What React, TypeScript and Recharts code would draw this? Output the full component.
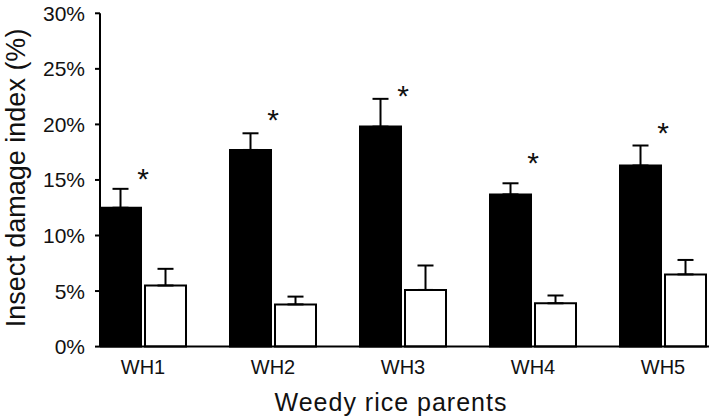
import { Bar, ComposedChart, ErrorBar, Label, Scatter, XAxis, YAxis } from 'recharts';

const parents = ['WH1', 'WH2', 'WH3', 'WH4', 'WH5'];
const weedy = [12.5, 17.7, 19.8, 13.7, 16.3];
const weedyErr = [1.7, 1.5, 2.5, 1.0, 1.8];
const cultivated = [5.5, 3.8, 5.1, 3.9, 6.5];
const cultivatedErr = [1.5, 0.7, 2.2, 0.7, 1.3];
const starAt = [15.7, 21.0, 23.2, 17.2, 19.9];
const yTicks = [0, 5, 10, 15, 20, 25, 30];

const FONT = '"Liberation Sans", Arial, Helvetica, sans-serif';
const INK = '#111';

const rows = parents.map((name, i) => ({
  name,
  pos: i + 1,
  weedy: weedy[i],
  weedyErr: [0, weedyErr[i]],
  cultivated: cultivated[i],
  cultivatedErr: [0, cultivatedErr[i]],
  star: starAt[i],
}));

function Asterisk(props: any) {
  const { cx, cy } = props;
  return (
    <text x={cx} y={cy + 17} textAnchor="middle" fontSize={30} fontFamily={FONT} fill={INK}>
      *
    </text>
  );
}

function YTitle(props: any) {
  const vb = props.viewBox;
  const x = 25;
  const y = vb.y + vb.height / 2 - 2;
  return (
    <text
      x={x}
      y={y}
      transform={`rotate(-90, ${x}, ${y})`}
      textAnchor="middle"
      fontSize={27}
      fontFamily={FONT}
      fill={INK}
    >
      Insect damage index (%)
    </text>
  );
}

function XTitle(props: any) {
  const vb = props.viewBox;
  return (
    <text
      x={vb.x + 291}
      y={410.7}
      textAnchor="middle"
      fontSize={25}
      letterSpacing={1}
      fontFamily={FONT}
      fill={INK}
    >
      Weedy rice parents
    </text>
  );
}

export default function App() {
  return (
    <div style={{ position: 'absolute', left: 0, top: 0, width: 709, height: 420, background: '#fff' }}>
      <ComposedChart
        width={709}
        height={420}
        data={rows}
        margin={{ top: 13.3, right: 0, bottom: 0, left: 0 }}
        barSize={41}
        barGap={4}
      >
        <XAxis
          dataKey="pos"
          type="number"
          domain={[0.6692, 5.3538]}
          allowDataOverflow
          ticks={[1, 2, 3, 4, 5]}
          tickFormatter={(v: number) => parents[v - 1]}
          height={73.4}
          tickLine={false}
          tickSize={0}
          tickMargin={13.4}
          axisLine={{ stroke: '#000', strokeWidth: 2 }}
          tick={{ fontSize: 20, fontFamily: FONT, fill: INK }}
        >
          <Label content={XTitle} />
        </XAxis>
        <YAxis
          type="number"
          domain={[0, 30]}
          ticks={yTicks}
          tickFormatter={(v: number) => `${v}%`}
          width={100}
          tickSize={5}
          tickMargin={10}
          interval={0}
          axisLine={{ stroke: '#000', strokeWidth: 2 }}
          tickLine={{ stroke: '#000', strokeWidth: 2 }}
          tick={{ fontSize: 21, fontFamily: FONT, fill: INK }}
        >
          <Label content={YTitle} />
        </YAxis>
        <Bar dataKey="weedy" fill="#000" stroke="#000" strokeWidth={2} isAnimationActive={false}>
          <ErrorBar dataKey="weedyErr" direction="y" width={8} stroke="#000" strokeWidth={2} />
        </Bar>
        <Bar dataKey="cultivated" fill="#fff" stroke="#000" strokeWidth={2} isAnimationActive={false}>
          <ErrorBar dataKey="cultivatedErr" direction="y" width={8} stroke="#000" strokeWidth={2} />
        </Bar>
        <Scatter dataKey="star" shape={Asterisk} isAnimationActive={false} />
      </ComposedChart>
    </div>
  );
}
